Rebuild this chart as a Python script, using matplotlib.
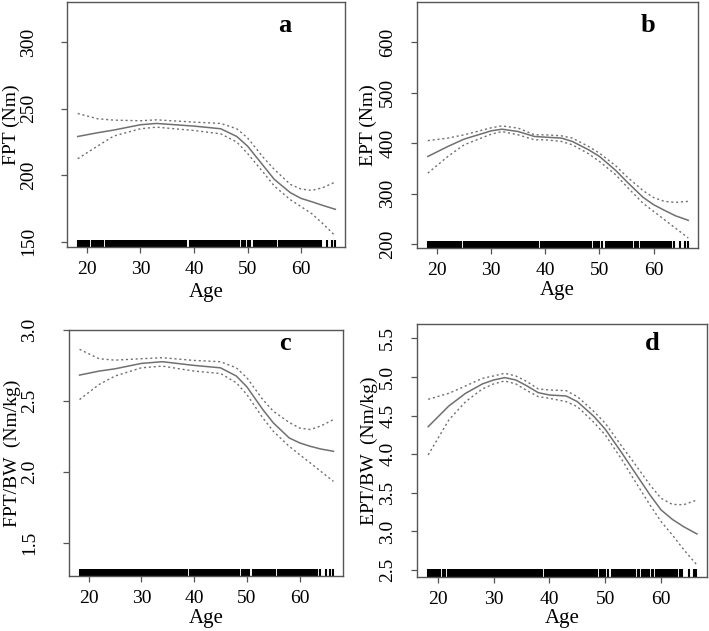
import matplotlib
matplotlib.use("Agg")
import matplotlib.pyplot as plt
import matplotlib.transforms as mtransforms

plt.rcParams['font.family'] = ['Liberation Serif', 'DejaVu Serif']

# ---- data ----
age_a = [18.3, 22, 25, 30, 33, 40, 45, 48, 50, 53, 55, 58, 60, 62, 64, 66.4]
fit_a = [229.0, 231.8, 233.8, 237.8, 238.8, 236.8, 234.8, 229.0, 221.8, 206.8, 196.8, 186.8, 182.5, 180.0, 177.3, 174.3]
up_a = [246.3, 242.3, 241.3, 240.8, 241.5, 239.8, 238.8, 234.8, 228.0, 213.0, 204.3, 193.0, 189.5, 188.5, 190.5, 194.8]
lo_a = [212.3, 221.8, 229.3, 234.8, 236.0, 233.5, 231.0, 224.8, 216.3, 201.8, 191.8, 181.5, 176.3, 171.0, 163.8, 154.3]

age_b = [18.3, 22, 25, 30, 32, 35, 38, 40, 43, 45, 48, 50, 53, 55, 58, 60, 62, 64, 66.4]
fit_b = [373.6, 393.4, 408.0, 424.4, 427.7, 423.0, 413.2, 411.9, 410.0, 403.3, 386.8, 373.6, 345.9, 324.1, 293.0, 277.9, 266.7, 256.1, 246.9]
up_b = [405.0, 410.0, 416.5, 430.4, 434.3, 429.7, 416.5, 416.5, 414.5, 410.0, 393.4, 380.2, 355.1, 334.0, 306.3, 292.0, 284.5, 282.5, 284.5]
lo_b = [340.6, 373.6, 396.7, 417.8, 423.0, 416.5, 406.6, 406.6, 403.3, 396.7, 378.9, 363.7, 337.3, 314.2, 281.2, 264.7, 248.2, 231.7, 211.9]

age_c = [18.3, 22, 25, 30, 34, 40, 45, 48, 50, 53, 55, 58, 60, 62, 64, 66.4]
fit_c = [2.683, 2.711, 2.727, 2.765, 2.777, 2.751, 2.734, 2.676, 2.600, 2.441, 2.347, 2.241, 2.206, 2.182, 2.163, 2.147]
up_c = [2.864, 2.798, 2.788, 2.798, 2.805, 2.786, 2.777, 2.734, 2.664, 2.511, 2.429, 2.350, 2.310, 2.300, 2.325, 2.370]
lo_c = [2.511, 2.617, 2.676, 2.734, 2.746, 2.711, 2.694, 2.629, 2.546, 2.382, 2.288, 2.182, 2.123, 2.065, 2.006, 1.935]

age_d = [18.3, 22, 25, 28, 30, 32, 34, 36, 38, 40, 43, 45, 48, 50, 53, 55, 58, 60, 62, 64, 66.4]
fit_d = [4.356, 4.624, 4.788, 4.909, 4.960, 4.991, 4.960, 4.883, 4.796, 4.766, 4.753, 4.680, 4.486, 4.322, 4.011, 3.795, 3.472, 3.277, 3.156, 3.062, 2.967]
up_d = [4.710, 4.788, 4.883, 4.982, 5.012, 5.047, 5.012, 4.939, 4.844, 4.831, 4.822, 4.745, 4.550, 4.400, 4.097, 3.903, 3.601, 3.428, 3.350, 3.345, 3.407]
lo_d = [3.990, 4.443, 4.680, 4.844, 4.909, 4.948, 4.909, 4.822, 4.745, 4.723, 4.680, 4.615, 4.408, 4.248, 3.925, 3.687, 3.342, 3.126, 2.954, 2.768, 2.565]

rug_age = [18.3, 18.6, 18.9, 19.2, 19.5, 19.9, 20.2, 20.5, 20.9, 21.2, 21.4, 21.8,
           22.1, 22.4, 22.8, 23.1, 23.5, 23.8, 24.1, 24.5, 24.9, 25.2, 25.5, 25.8,
           26.0, 26.3, 26.6, 26.9, 27.2, 27.5, 27.8, 28.1, 28.4, 28.7, 29.0, 29.3,
           29.6, 29.9, 30.2, 30.5, 30.8, 31.1, 31.4, 31.7, 32.0, 32.3, 32.6, 32.9,
           33.2, 33.5, 33.8, 34.1, 34.4, 34.7, 35.0, 35.3, 35.6, 35.9, 36.2, 36.5,
           36.8, 37.1, 37.4, 37.7, 38.0, 38.3, 38.6, 39.2, 39.5, 39.8, 40.1, 40.4,
           40.7, 41.0, 41.3, 41.6, 41.9, 42.2, 42.5, 42.8, 43.1, 43.4, 43.7, 44.0,
           44.3, 44.6, 44.9, 45.2, 45.5, 45.8, 46.1, 46.4, 46.7, 47.0, 47.3, 47.6,
           47.9, 48.2, 48.5, 49.0, 49.3, 49.6, 50.0, 50.4, 51.2, 51.5, 51.8, 52.1,
           52.4, 52.7, 53.0, 53.3, 53.7, 54.0, 54.4, 54.7, 55.1, 55.4, 55.8, 56.1,
           56.5, 56.9, 57.2, 57.6, 57.9, 58.3, 58.6, 59.0, 59.3, 59.6, 59.8, 60.0,
           60.2, 60.4, 60.6, 60.8, 61.0, 61.2, 61.4, 61.7, 62.0, 62.3, 62.6, 62.9,
           63.3, 63.8, 64.9, 65.8, 66.3]

panels = [
    dict(age=age_a, fit=fit_a, up=up_a, lo=lo_a, ylabel="FPT (Nm)", letter="a",
         ticks=[150, 200, 250, 300], ylim=(146, 330), ticklab=["150", "200", "250", "300"],
         pos=[67, 2, 345, 247], lpos=(0.784, 0.906), ylc=11, xlc=293, ypad=17.5),
    dict(age=age_b, fit=fit_b, up=up_b, lo=lo_b, ylabel="EPT (Nm)", letter="b",
         ticks=[200, 300, 400, 500, 600], ylim=(192, 680), ticklab=["200", "300", "400", "500", "600"],
         pos=[417, 2, 698, 248], lpos=(0.822, 0.906), ylc=368, xlc=291, ypad=11),
    dict(age=age_c, fit=fit_c, up=up_c, lo=lo_c, ylabel="FPT/BW  (Nm/kg)", letter="c",
         ticks=[1.5, 2.0, 2.5, 3.0], ylim=(1.27, 3.0), ticklab=["1.5", "2.0", "2.5", "3.0"],
         pos=[69, 330, 343, 576], lpos=(0.788, 0.946), ylc=12, xlc=619, ypad=18.5),
    dict(age=age_d, fit=fit_d, up=up_d, lo=lo_d, ylabel="EPT/BW  (Nm/kg)", letter="d",
         ticks=[2.5, 3.0, 3.5, 4.0, 4.5, 5.0, 5.5], ylim=(2.41, 5.685),
         ticklab=["2.5", "3.0", "3.5", "4.0", "4.5", "5.0", "5.5"],
         pos=[417, 324, 707, 577], lpos=(0.81, 0.924), ylc=369, xlc=618, ypad=11),
]

W, H = 709, 631
fig = plt.figure(figsize=(W / 100, H / 100), dpi=100)
frame_col = "#555555"
line_col = "#707070"

for p in panels:
    x0, y0, x1, y1 = p["pos"]
    ax = fig.add_axes([x0 / W, 1 - y1 / H, (x1 - x0) / W, (y1 - y0) / H])
    ax.plot(p["age"], p["fit"], color=line_col, lw=1.1)
    ax.plot(p["age"], p["up"], color=line_col, lw=1.0, ls=(0, (1.5, 2)))
    ax.plot(p["age"], p["lo"], color=line_col, lw=1.0, ls=(0, (1.5, 2)))
    trans = mtransforms.blended_transform_factory(ax.transData, ax.transAxes)
    ax.vlines(rug_age, 0, 0.03, transform=trans, color="black", lw=1.5)
    ax.set_xlim(16.3, 68.2)
    ax.set_ylim(*p["ylim"])
    ax.set_xticks([20, 30, 40, 50, 60])
    ax.set_yticks(p["ticks"])
    ax.set_yticklabels(p["ticklab"], rotation=90, va="center")
    for s in ax.spines.values():
        s.set_color(frame_col)
        s.set_linewidth(1.0)
    ax.tick_params(axis="both", colors=frame_col, labelcolor="black", labelsize=14,
                   length=4, width=0.9)
    ax.tick_params(axis="y", pad=p["ypad"])
    ax.tick_params(axis="x", pad=6)
    ax.set_xlabel("Age", fontsize=15, va="center")
    ax.xaxis.set_label_coords(0.5, -(p["xlc"] - y1) / (y1 - y0))
    ax.set_ylabel(p["ylabel"], fontsize=14, va="center")
    ax.yaxis.set_label_coords((p["ylc"] - x0) / (x1 - x0), 0.5)
    ax.text(p["lpos"][0], p["lpos"][1], p["letter"], transform=ax.transAxes,
            fontsize=19, fontweight="bold", ha="center", va="center")

fig.savefig("out.png", dpi=100)
